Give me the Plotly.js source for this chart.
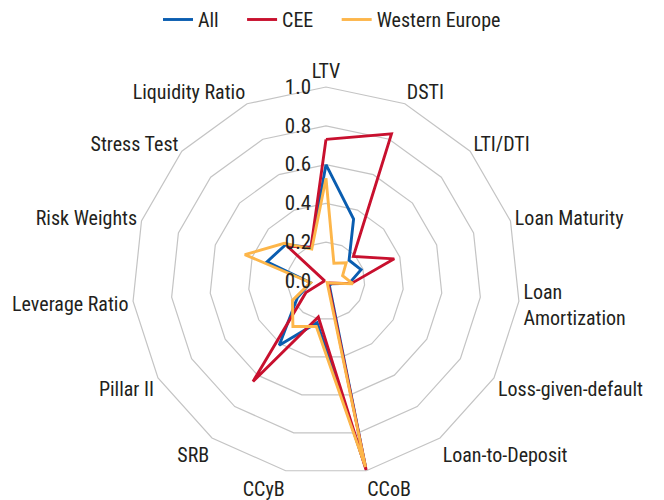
<!DOCTYPE html>
<html>
<head>
<meta charset="utf-8">
<script src="https://cdn.plot.ly/plotly-3.0.1.min.js"></script>
<style>html,body{margin:0;padding:0;background:#fff;}#chart{width:664px;height:500px;}</style>
</head>
<body>
<div id="chart"></div>
<script>
const categories = ["LTV","DSTI","LTI/DTI","Loan Maturity","Loan<br>Amortization","Loss-given-default","Loan-to-Deposit","CCoB","CCyB","SRB","Pillar II","Leverage Ratio","Risk Weights","Stress Test","Liquidity Ratio"];
const allValues = [0.60,0.35,0.16,0.19,0.12,0.03,0.03,0.98,0.22,0.41,0.17,0.08,0.32,0.28,0.19];
const ceeValues = [0.73,0.83,0.19,0.37,0.13,0.02,0.02,1.00,0.19,0.64,0.12,0.01,0.01,0.27,0.19];
const weValues  = [0.53,0.10,0.14,0.09,0.14,0.02,0.01,0.98,0.24,0.29,0.20,0.08,0.44,0.29,0.18];
const seriesNames = ["All","CEE","Western Europe"];
const radialTicks = [0,0.2,0.4,0.6,0.8,1.0];
const radialTickText = ["0.0","0.2","0.4","0.6","0.8","1.0"];

const FONT = "Liberation Sans Narrow, Arial Narrow, Roboto Condensed, Liberation Sans, sans-serif";
const PAD = "\u00a0\u00a0\u00a0\u00a0";
function closed(a){ return a.concat([a[0]]); }
function mk(name, vals, color){
  return {type:"scatterpolar", mode:"lines", name:name,
    r: closed(vals), theta: closed(categories),
    line:{color:color, width:2.9}, hoverinfo:"skip"};
}
const data = [
  mk(seriesNames[0] + PAD, allValues, "#0a5db0"),
  mk(seriesNames[1] + PAD, ceeValues, "#c8102e"),
  mk(seriesNames[2], weValues, "#fdb64a")
];
const layout = {
  width:664, height:500,
  margin:{l:0,r:0,t:0,b:0},
  paper_bgcolor:"#fff",
  font:{family:FONT, size:20, color:"#231f20"},
  showlegend:true,
  legend:{orientation:"h", x:0.5, xanchor:"center", y:1.0, yanchor:"top",
    font:{family:FONT, size:20, color:"#231f20"}, tracegroupgap:0},
  polar:{
    domain:{x:[0.1988,0.7831], y:[0.05,0.826]},
    gridshape:"linear",
    bgcolor:"#fff",
    radialaxis:{range:[0,1], tickvals:radialTicks, ticktext:radialTickText,
      angle:90, tickangle:90, side:"counterclockwise", showline:false,
      ticks:"outside", ticklen:7, tickcolor:"rgba(0,0,0,0)",
      gridcolor:"#c4c4c4", gridwidth:1.2,
      tickfont:{family:FONT, size:21, color:"#231f20"}},
    angularaxis:{direction:"clockwise", rotation:90, showgrid:false,
      showline:true, linecolor:"#c4c4c4", linewidth:1.2, ticks:"",
      tickfont:{family:FONT, size:20, color:"#231f20"}}
  }
};
Plotly.newPlot("chart", data, layout, {displayModeBar:false, staticPlot:true});
</script>
</body>
</html>
